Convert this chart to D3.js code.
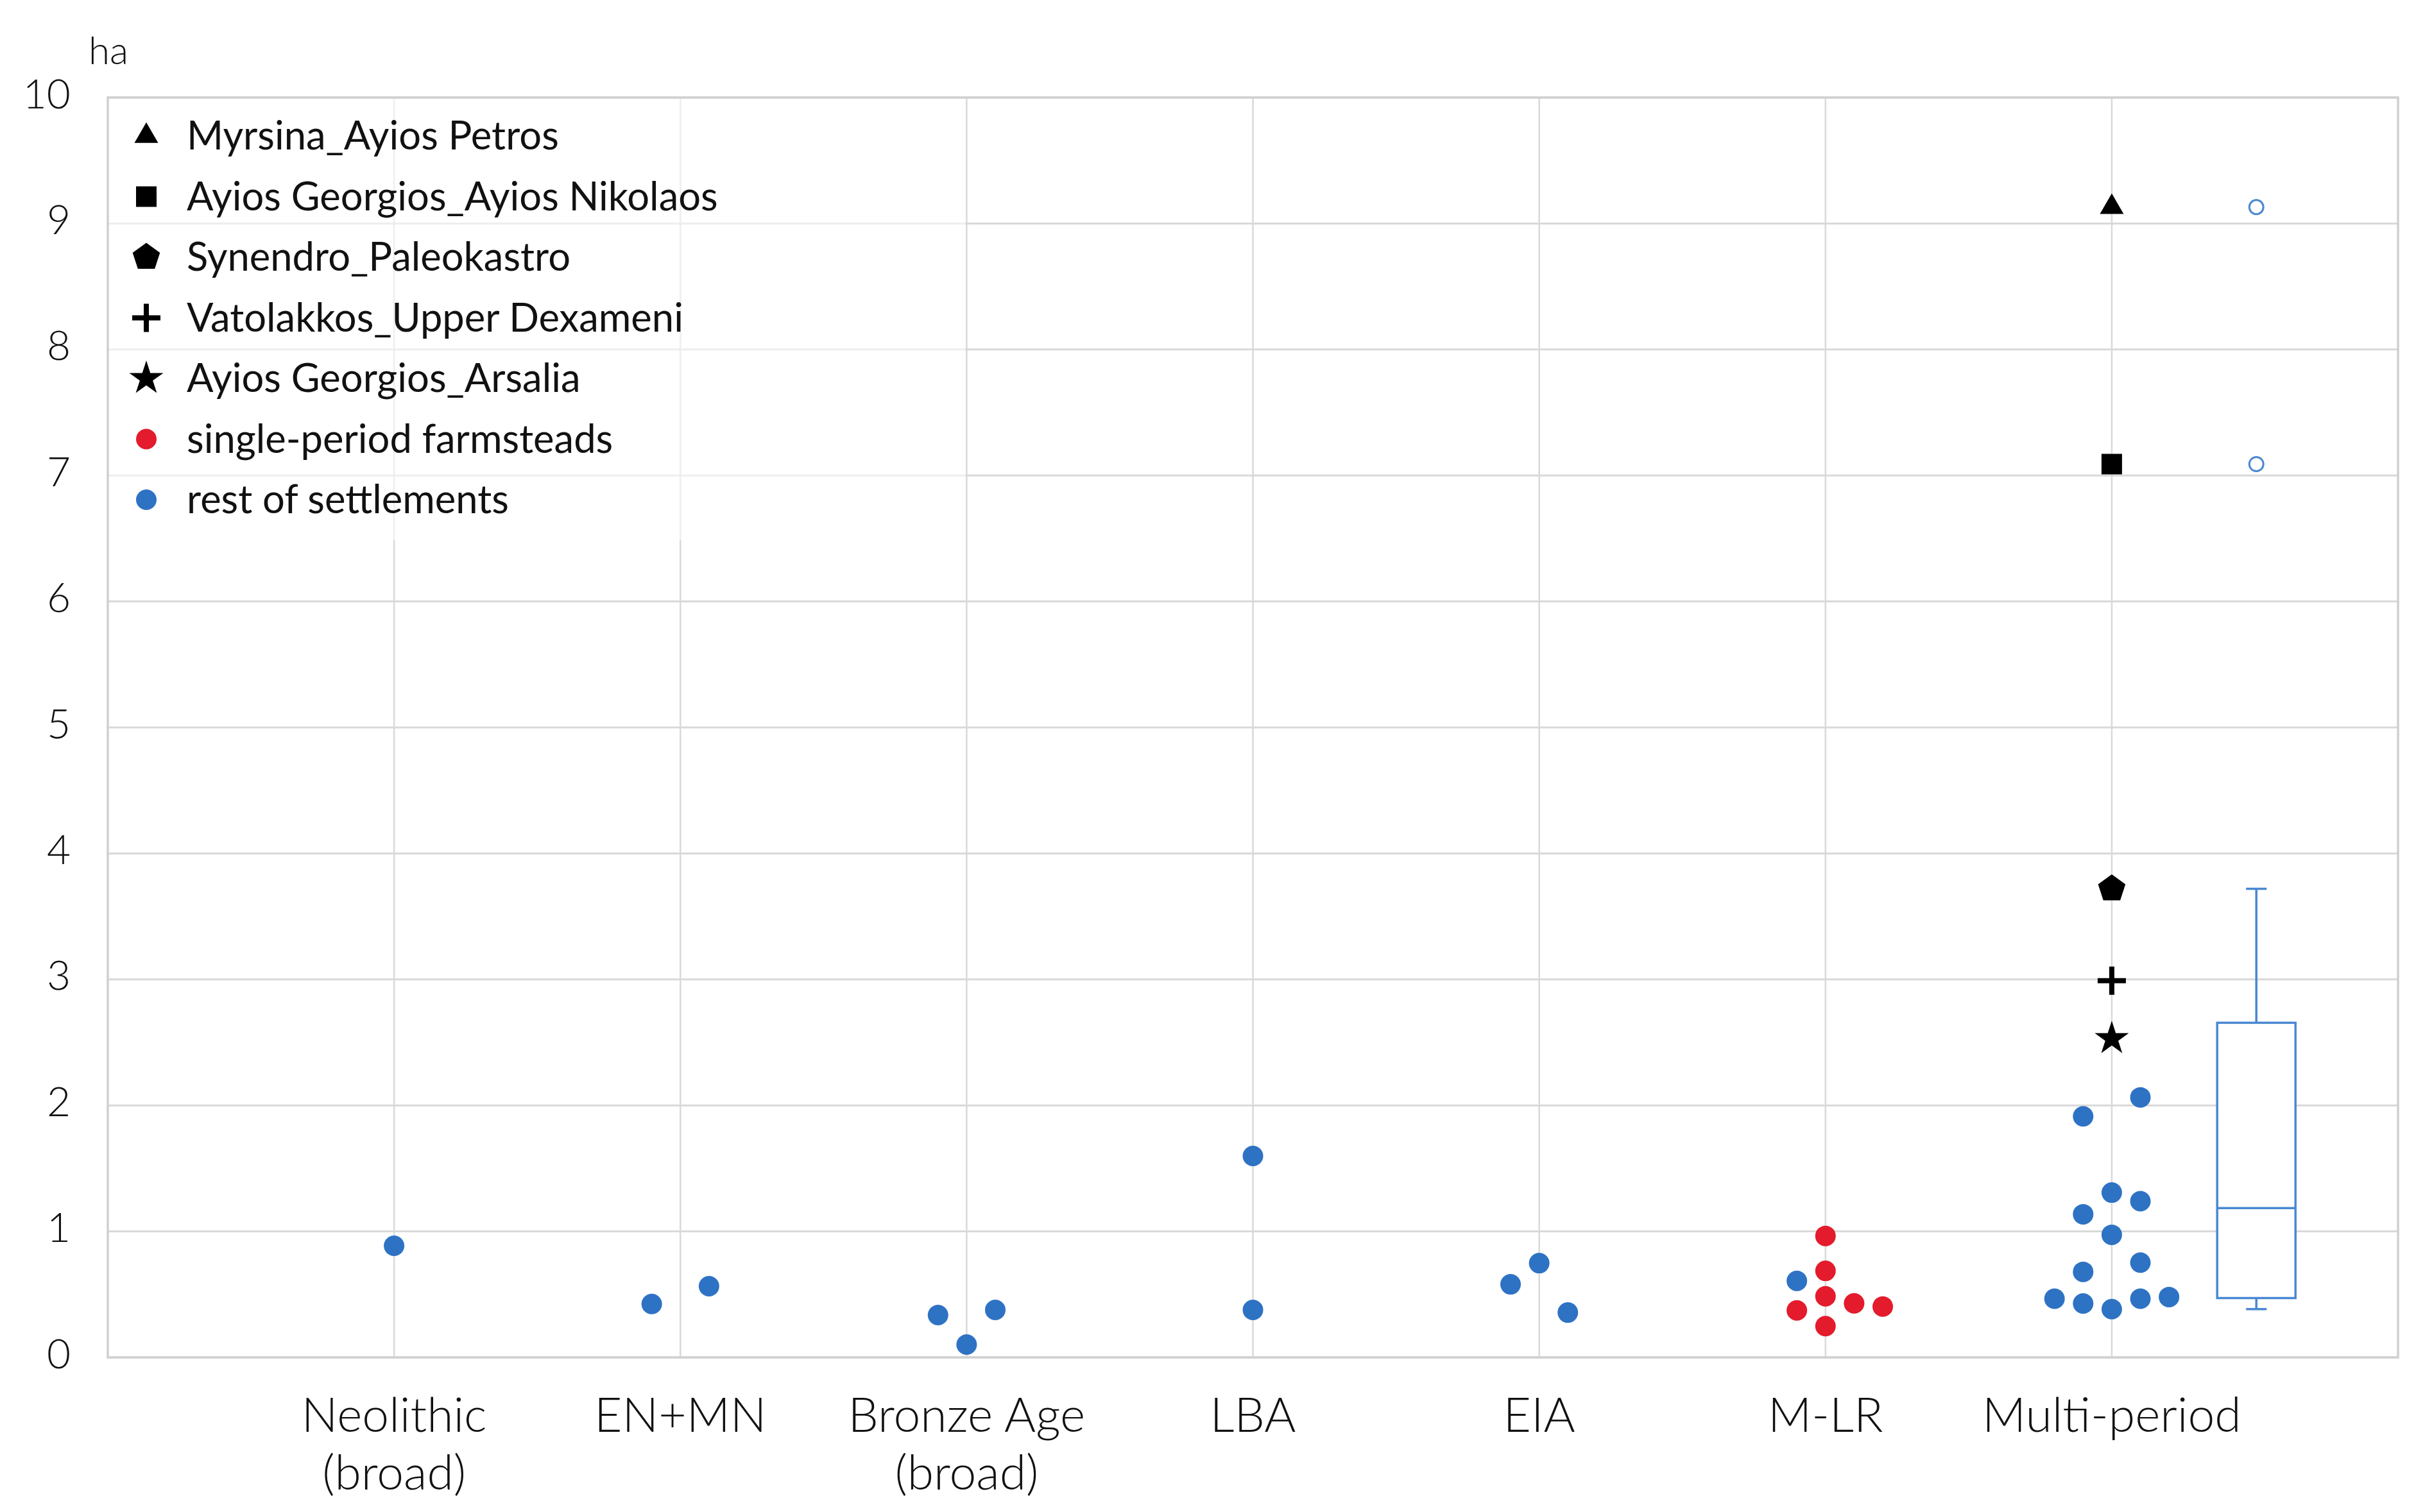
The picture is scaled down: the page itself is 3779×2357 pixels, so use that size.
<!DOCTYPE html>
<html>
<head>
<meta charset="utf-8">
<script src="https://cdn.jsdelivr.net/npm/d3@7"></script>
<style>
  html, body { margin: 0; padding: 0; background: #ffffff; }
  svg { display: block; }
  text { font-family: Lato, "Open Sans", "Noto Sans", sans-serif; }
</style>
</head>
<body>
<script>
// ---------------- DATA ----------------
const categories = [
  ["Neolithic", "(broad)"],
  ["EN+MN"],
  ["Bronze Age", "(broad)"],
  ["LBA"],
  ["EIA"],
  ["M-LR"],
  ["Multi-period"]
];
const yTicks = [0, 1, 2, 3, 4, 5, 6, 7, 8, 9, 10];
const yUnit = "ha";

// rest of settlements (blue): [category index, jitter slot, value ha]
const restSettlements = [
  [0, 0, 0.886],
  [1, -1, 0.424], [1, 1, 0.565],
  [2, -1, 0.336], [2, 1, 0.377], [2, 0, 0.102],
  [3, 0, 1.599], [3, 0, 0.377],
  [4, -1, 0.580], [4, 0, 0.748], [4, 1, 0.356],
  [5, -1, 0.607],
  [6, 1, 2.064], [6, -1, 1.913], [6, 0, 1.308], [6, 1, 1.240], [6, -1, 1.136],
  [6, 0, 0.973], [6, 1, 0.752], [6, -1, 0.679], [6, -2, 0.466], [6, -1, 0.428],
  [6, 0, 0.383], [6, 1, 0.466], [6, 2, 0.479]
];
// single-period farmsteads (red)
const farmsteads = [
  [5, 0, 0.964], [5, 0, 0.687], [5, 0, 0.485], [5, 1, 0.429],
  [5, 2, 0.404], [5, -1, 0.373], [5, 0, 0.248]
];
// named sites (multi-period)
const namedSites = [
  { name: "Myrsina_Ayios Petros", shape: "triangle", cat: 6, value: 9.13 },
  { name: "Ayios Georgios_Ayios Nikolaos", shape: "square", cat: 6, value: 7.09 },
  { name: "Synendro_Paleokastro", shape: "pentagon", cat: 6, value: 3.72 },
  { name: "Vatolakkos_Upper Dexameni", shape: "plus", cat: 6, value: 2.99 },
  { name: "Ayios Georgios_Arsalia", shape: "star", cat: 6, value: 2.53 }
];
// box plot of multi-period sizes
const boxStats = { min: 0.383, q1: 0.471, median: 1.185, q3: 2.656, max: 3.72 };
const boxOutliers = [9.13, 7.09];

const legendItems = [
  { label: "Myrsina_Ayios Petros", shape: "triangle" },
  { label: "Ayios Georgios_Ayios Nikolaos", shape: "square" },
  { label: "Synendro_Paleokastro", shape: "pentagon" },
  { label: "Vatolakkos_Upper Dexameni", shape: "plus" },
  { label: "Ayios Georgios_Arsalia", shape: "star" },
  { label: "single-period farmsteads", shape: "dotRed" },
  { label: "rest of settlements", shape: "dotBlue" }
];

// ---------------- STYLE / LAYOUT ----------------
const W = 3779, H = 2357;
const M = { left: 168, top: 152, right: 3737, bottom: 2116 };
const BLUE = "#2e72c4", RED = "#e31b2c", BOXC = "#4a88d2", GRID = "#d9d9d9", BORDER = "#d0d0d0";
const JITTER = 0.1;       // category units per jitter slot
const BOX_POS = 7.505;    // position of the box plot on the category axis

const svg = d3.select("body").append("svg").attr("width", W).attr("height", H);
svg.append("rect").attr("width", W).attr("height", H).attr("fill", "#fff");

const x = d3.scaleLinear().domain([0, categories.length + 1]).range([M.left, M.right]);
const y = d3.scaleLinear().domain([0, 10]).range([M.bottom, M.top]);

// gridlines
const grid = svg.append("g");
grid.selectAll("line.h").data(yTicks).join("line")
  .attr("x1", M.left).attr("x2", M.right)
  .attr("y1", d => y(d)).attr("y2", d => y(d))
  .attr("stroke", GRID).attr("stroke-width", 3);
grid.selectAll("line.v").data(categories).join("line")
  .attr("x1", (d, i) => x(i + 1)).attr("x2", (d, i) => x(i + 1))
  .attr("y1", M.top).attr("y2", M.bottom)
  .attr("stroke", GRID).attr("stroke-width", 2.5);

// plot border
svg.append("rect").attr("x", M.left).attr("y", M.top)
  .attr("width", M.right - M.left).attr("height", M.bottom - M.top)
  .attr("fill", "none").attr("stroke", BORDER).attr("stroke-width", 3.5);

// y axis (labels only)
const yAxis = d3.axisLeft(y).tickValues(yTicks).tickSize(0).tickPadding(58).tickFormat(d3.format("d"));
const ya = svg.append("g").attr("transform", `translate(${M.left},0)`).call(yAxis);
ya.select(".domain").remove();
ya.selectAll("text").attr("font-size", 64).attr("font-weight", 300).attr("fill", "#111")
  .attr("dy", "0.25em").style("font-family", "Lato, 'Open Sans', sans-serif");

svg.append("text").attr("x", 138).attr("y", 100).attr("font-size", 60).attr("font-weight", 300)
  .attr("fill", "#111").text(yUnit);

// x axis labels
const xa = svg.append("g");
categories.forEach((lines, i) => {
  const t = xa.append("text").attr("text-anchor", "middle").attr("font-size", 75)
    .attr("font-weight", 300).attr("fill", "#111");
  lines.forEach((ln, j) => {
    t.append("tspan").attr("x", x(i + 1)).attr("y", 2232 + j * 90).text(ln);
  });
});

// shape generators
function pentagonPath(R) {
  const p = d3.path();
  for (let k = 0; k < 5; k++) {
    const a = -Math.PI / 2 + k * 2 * Math.PI / 5;
    const px = R * Math.cos(a), py = R * Math.sin(a);
    if (k === 0) p.moveTo(px, py); else p.lineTo(px, py);
  }
  p.closePath();
  return p.toString();
}
function drawShape(g, shape, cx, cy) {
  const s = g.append("g").attr("transform", `translate(${cx},${cy})`);
  if (shape === "triangle") {
    s.append("path").attr("d", d3.symbol(d3.symbolTriangle, 591)()).attr("fill", "#000");
  } else if (shape === "square") {
    s.append("path").attr("d", d3.symbol(d3.symbolSquare, 1024)()).attr("fill", "#000");
  } else if (shape === "pentagon") {
    s.append("path").attr("d", pentagonPath(22.4)).attr("fill", "#000");
  } else if (shape === "plus") {
    s.append("path").attr("d", "M-22,0H22M0,-22V22").attr("stroke", "#000").attr("stroke-width", 8).attr("fill", "none");
  } else if (shape === "star") {
    s.append("path").attr("d", d3.symbol(d3.symbolStar, 874)()).attr("fill", "#000");
  } else if (shape === "dotRed") {
    s.append("circle").attr("r", 16).attr("fill", RED);
  } else if (shape === "dotBlue") {
    s.append("circle").attr("r", 16).attr("fill", BLUE);
  }
}

// legend background (semi-transparent, spans to the Bronze Age gridline)
const lg = svg.append("g");
lg.append("rect").attr("x", M.left + 2).attr("y", M.top + 2)
  .attr("width", x(3) - M.left - 4).attr("height", 688)
  .attr("fill", "#fff").attr("fill-opacity", 0.55);
legendItems.forEach((it, i) => {
  const cy = 212 + i * 94.5;
  drawShape(lg, it.shape, 228, cy);
  lg.append("text").attr("x", 291).attr("y", cy + 21).attr("font-size", 61.5).attr("fill", "#111").text(it.label);
});

// points
const pts = svg.append("g");
pts.selectAll("circle.blue").data(restSettlements).join("circle")
  .attr("cx", d => x(d[0] + 1 + d[1] * JITTER)).attr("cy", d => y(d[2]))
  .attr("r", 16).attr("fill", BLUE);
pts.selectAll("circle.red").data(farmsteads).join("circle")
  .attr("cx", d => x(d[0] + 1 + d[1] * JITTER)).attr("cy", d => y(d[2]))
  .attr("r", 16).attr("fill", RED);
namedSites.forEach(s => drawShape(pts, s.shape, x(s.cat + 1), y(s.value)));

// box plot
const bx = svg.append("g").attr("stroke", BOXC).attr("fill", "none").attr("stroke-width", 3.5);
const bc = x(BOX_POS), bw = 122, cap = 32;
bx.append("rect").attr("x", bc - bw / 2).attr("y", y(boxStats.q3))
  .attr("width", bw).attr("height", y(boxStats.q1) - y(boxStats.q3)).attr("fill", "#fff");
bx.append("line").attr("x1", bc - bw / 2).attr("x2", bc + bw / 2).attr("y1", y(boxStats.median)).attr("y2", y(boxStats.median));
bx.append("line").attr("x1", bc).attr("x2", bc).attr("y1", y(boxStats.q3)).attr("y2", y(boxStats.max));
bx.append("line").attr("x1", bc).attr("x2", bc).attr("y1", y(boxStats.q1)).attr("y2", y(boxStats.min));
bx.append("line").attr("x1", bc - cap / 2).attr("x2", bc + cap / 2).attr("y1", y(boxStats.max)).attr("y2", y(boxStats.max));
bx.append("line").attr("x1", bc - cap / 2).attr("x2", bc + cap / 2).attr("y1", y(boxStats.min)).attr("y2", y(boxStats.min));
bx.selectAll("circle").data(boxOutliers).join("circle")
  .attr("cx", bc).attr("cy", d => y(d)).attr("r", 11).attr("stroke-width", 3).attr("fill", "#fff");
</script>
</body>
</html>
